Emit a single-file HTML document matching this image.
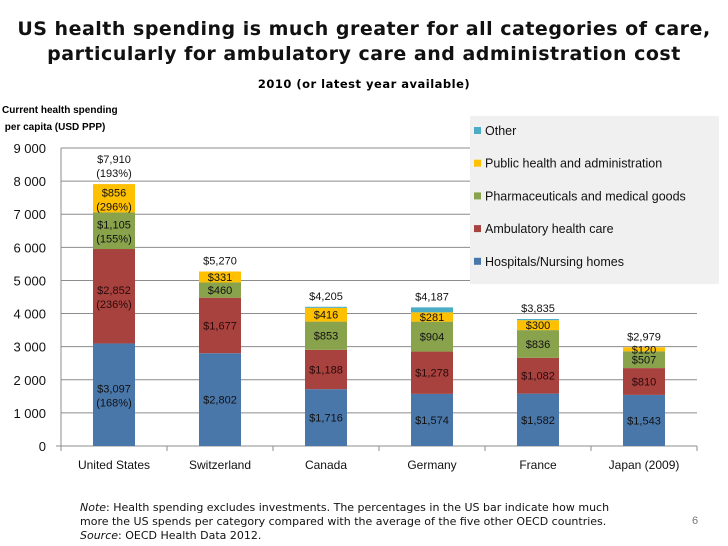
<!DOCTYPE html>
<html><head><meta charset="utf-8"><style>
body{margin:0;width:728px;height:546px;background:#fff;font-family:"Liberation Sans","DejaVu Sans",sans-serif;overflow:hidden;position:relative}
.t{position:absolute;white-space:nowrap}
</style></head><body>
<div class="t" style="left:0;width:728px;top:17px;text-align:center;font:bold 19px 'DejaVu Sans',sans-serif;line-height:25px;color:#111;letter-spacing:0.5px">US health spending is much greater for all categories of care,<br>particularly for ambulatory care and administration cost</div>
<div class="t" style="left:0;width:728px;top:77px;text-align:center;font:bold 11.5px 'DejaVu Sans',sans-serif;letter-spacing:0.5px">2010 (or latest year available)</div>
<div class="t" style="left:2px;top:102px;font:bold 10px 'Liberation Sans',sans-serif;line-height:17px">Current health spending<br>&nbsp;per capita (USD PPP)</div>
<svg id="chart" width="728" height="546" style="position:absolute;left:0;top:0"></svg>
<div class="t" style="left:80px;top:501px;font:11px 'DejaVu Sans',sans-serif;line-height:14px;color:#111"><i>Note</i>: Health spending excludes investments. The percentages in the US bar indicate how much<br>more the US spends per category compared with the average of the five other OECD countries.<br><i>Source</i>: OECD Health Data 2012.</div>
<div class="t" style="left:692px;top:515px;font:11px 'Liberation Sans',sans-serif;color:#777">6</div>
<script>
const categories=["United States","Switzerland","Canada","Germany","France","Japan (2009)"];
const hospitals=[3097,2802,1716,1574,1582,1543];
const ambulatory=[2852,1677,1188,1278,1082,810];
const pharma=[1105,460,853,904,836,507];
const publicHealth=[856,331,416,281,300,120];
const other=[0,0,32,150,35,0];
const totals=[7910,5270,4205,4187,3835,2979];
const usPct={hospitals:"(168%)",ambulatory:"(236%)",pharma:"(155%)",publicHealth:"(296%)",total:"(193%)"};
const yTicks=[0,1000,2000,3000,4000,5000,6000,7000,8000,9000];
const tickLabels=["0","1 000","2 000","3 000","4 000","5 000","6 000","7 000","8 000","9 000"];
const series=[
 {key:"hospitals",name:"Hospitals/Nursing homes",vals:hospitals,color:"#4a77aa",tc:"#111"},
 {key:"ambulatory",name:"Ambulatory health care",vals:ambulatory,color:"#a8423f",tc:"#2a0a0a"},
 {key:"pharma",name:"Pharmaceuticals and medical goods",vals:pharma,color:"#89a24c",tc:"#111"},
 {key:"publicHealth",name:"Public health and administration",vals:publicHealth,color:"#ffc000",tc:"#111"},
 {key:"other",name:"Other",vals:other,color:"#4bacc6",tc:"#111"}];
const svg=document.getElementById('chart');const NS="http://www.w3.org/2000/svg";
const X0=61,X1=697,Y0=446,Y9=148;
const y=v=>Y0-(v/9000)*(Y0-Y9);
const bw=(X1-X0)/categories.length;const cx=i=>X0+bw*(i+0.5);const BW=42;
function el(tag,a,txt){const e=document.createElementNS(NS,tag);for(const k in a)e.setAttribute(k,a[k]);if(txt!=null)e.textContent=txt;svg.appendChild(e);return e;}
yTicks.forEach((v,i)=>{
 if(v>0){const g=el('line',{x1:X0,x2:X1,y1:y(v),y2:y(v),stroke:'#8c8c8c','stroke-width':1});
 }
 const t=el('text',{x:46,y:y(v)+5,'text-anchor':'end','font-size':13,'font-family':'Liberation Sans',fill:'#111'},tickLabels[i]);
 
});
let a=el('line',{x1:X0,x2:X0,y1:Y9,y2:Y0,stroke:'#8c8c8c'});
a=el('line',{x1:X0-5,x2:X1,y1:Y0,y2:Y0,stroke:'#8c8c8c'});
for(let i=0;i<=categories.length;i++){const tk=el('line',{x1:X0+bw*i,x2:X0+bw*i,y1:Y0,y2:Y0+5,stroke:'#8c8c8c'});}
categories.forEach((c,i)=>{
 const t=el('text',{x:cx(i),y:469,'text-anchor':'middle','font-size':12,'font-family':'Liberation Sans',fill:'#111'},c);
 
 let base=0;
 series.forEach(s=>{
  const v=s.vals[i];if(v<=0)return;
  const r=el('rect',{x:cx(i)-BW/2,y:y(base+v),width:BW,height:y(base)-y(base+v),fill:s.color});
  
  if(s.key!=='other'){
   const mid=(y(base)+y(base+v))/2;const pct=i===0?usPct[s.key]:null;
   const lbl='$'+v.toLocaleString('en-US');
   const tx=el('text',{x:cx(i),y:pct?mid-2:mid+4,'text-anchor':'middle','font-size':11,'font-family':'Liberation Sans',fill:s.tc},lbl);
   
   if(pct){const p=el('text',{x:cx(i),y:mid+12,'text-anchor':'middle','font-size':11,'font-family':'Liberation Sans',fill:s.tc},pct);
    }
  }
  base+=v;
 });
 const top=y(totals[i]);const pct=i===0?usPct.total:null;
 const tt=el('text',{x:cx(i),y:pct?top-21:top-7,'text-anchor':'middle','font-size':11,'font-family':'Liberation Sans',fill:'#111'},'$'+totals[i].toLocaleString('en-US'));
 
 if(pct){const p=el('text',{x:cx(i),y:top-7,'text-anchor':'middle','font-size':11,'font-family':'Liberation Sans',fill:'#111'},pct);}
});
const lg=el('rect',{x:470,y:116,width:249,height:168,fill:'#f0f0f0'});
series.slice().reverse().forEach((s,k)=>{
 const yy=131+k*32.7;
 const sw=el('rect',{x:474,y:yy-4,width:7,height:7,fill:s.color});
 const t=el('text',{x:485,y:yy+4,'font-size':12.5,'font-family':'Liberation Sans',fill:'#111'},s.name);
 
});
</script>
</body></html>
